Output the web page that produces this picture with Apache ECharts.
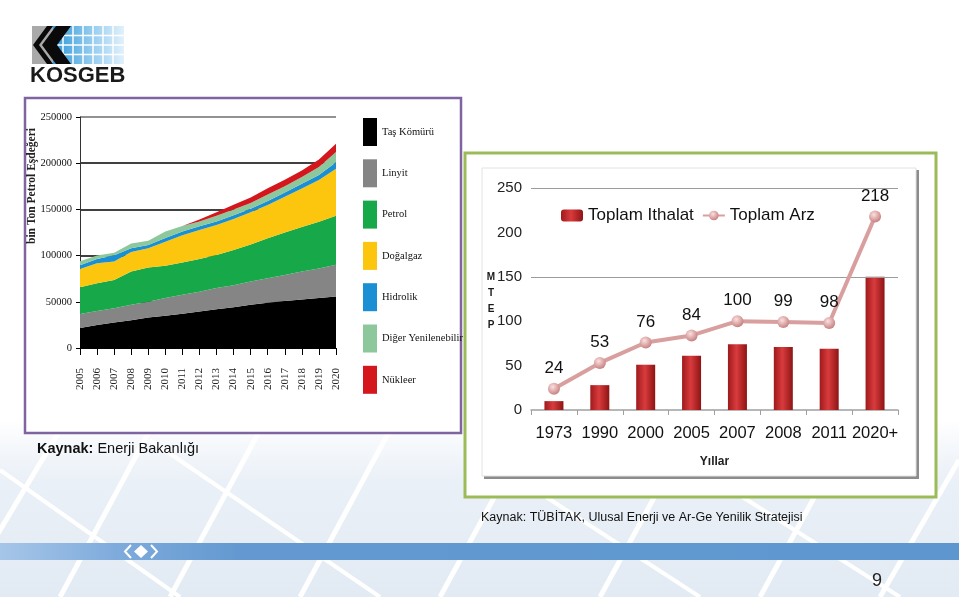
<!DOCTYPE html>
<html><head><meta charset="utf-8">
<script src="https://cdn.jsdelivr.net/npm/echarts@6/dist/echarts.min.js"></script>
<style>html,body{margin:0;padding:0;background:#fff;}#c{width:959px;height:597px;}</style>
</head><body><div id="c"></div>
<script>
// ---- Left chart data (bin Ton Petrol Eşdeğeri) ----
const years = ['2005','2006','2007','2008','2009','2010','2011','2012','2013','2014','2015','2016','2017','2018','2019','2020'];
const tasKomuru = [21600,25000,27700,30000,33000,35000,37000,39500,42000,44000,46800,49000,51000,52500,54000,55800];
const linyit = [15100,15000,15300,16800,17000,19000,20500,21500,23000,24000,25200,26500,28000,30200,32000,34200];
const petrol = [29100,30000,30700,35900,37000,35000,34900,35400,35700,38000,40000,43200,46000,48300,50700,53000];
const dogalgaz = [19800,21700,19800,21300,21000,26000,29600,31300,32300,33600,34800,36000,38700,41700,45000,51000];
const hidrolik = [4000,4500,7000,4000,3500,4000,4000,4000,4000,4000,4000,4500,4500,5000,5500,7000];
const digerYenilenebilir = [4400,3800,2500,5000,4500,7000,6000,5300,6000,6400,6200,6800,6800,7300,8800,11000];
const nukleer = [0,0,0,0,0,0,0,2000,4000,5000,6000,7000,7000,7000,8000,9000];

// ---- Right chart data (MTEP) ----
const yillar = ['1973','1990','2000','2005','2007','2008','2011','2020+'];
const toplamIthalat = [10,28,51,61,74,71,69,150];
const toplamArz = [24,53,76,84,100,99,98,218];
const rightGridValues = [150,250];

const SERIF = "'Liberation Serif','DejaVu Serif',serif";
const NARROW = "'Liberation Sans Narrow','Arial Narrow','Liberation Sans',Arial,sans-serif";
const SANS = "'Liberation Sans',Arial,sans-serif";

const chart = echarts.init(document.getElementById('c'), null, {renderer:'canvas'});

const layers = [
  {name:'Taş Kömürü', data:tasKomuru, color:'#000000'},
  {name:'Linyit', data:linyit, color:'#858585'},
  {name:'Petrol', data:petrol, color:'#17a84a'},
  {name:'Doğalgaz', data:dogalgaz, color:'#fcc60f'},
  {name:'Hidrolik', data:hidrolik, color:'#1b8fd4'},
  {name:'Diğer Yenilenebilir', data:digerYenilenebilir, color:'#8dc79c'},
  {name:'Nükleer', data:nukleer, color:'#d4161d'}
];

const leftSeries = layers.map(l => ({
  type:'line', name:l.name, data:l.data, stack:'enerji',
  xAxisIndex:0, yAxisIndex:0, symbol:'none', smooth:false,
  lineStyle:{width:0}, itemStyle:{color:l.color},
  areaStyle:{color:l.color, opacity:1}, z:2
}));

// background diagonal lines
const bgLines = [];
[[-40,597,60,430],[60,597,150,430],[170,597,260,430],[300,597,390,430],[440,597,520,450],
 [600,597,680,450],[760,597,840,450],[880,597,959,460]].forEach(p=>{
  bgLines.push({type:'line', z:-30, shape:{x1:p[0],y1:p[1],x2:p[2],y2:p[3]}, style:{stroke:'#ffffff', lineWidth:5}});
});
[[0,470,180,597],[150,440,380,597],[520,480,700,597],[700,470,900,597]].forEach(p=>{
  bgLines.push({type:'line', z:-30, shape:{x1:p[0],y1:p[1],x2:p[2],y2:p[3]}, style:{stroke:'#ffffff', lineWidth:4}});
});

// logo grid lines
const logoGrid = [];
for (let i=1;i<7;i++) logoGrid.push({type:'line', z:5, shape:{x1:53+i*10,y1:26,x2:53+i*10,y2:64}, style:{stroke:'#fff', lineWidth:1.5}});
for (let j=1;j<4;j++) logoGrid.push({type:'line', z:5, shape:{x1:53,y1:26+j*9.5,x2:124,y2:26+j*9.5}, style:{stroke:'#fff', lineWidth:1.5}});

const graphics = [
  // bottom background
  {type:'rect', z:-40, shape:{x:0,y:420,width:959,height:177},
   style:{fill:new echarts.graphic.LinearGradient(0,0,0,1,[{offset:0,color:'rgba(230,237,246,0)'},{offset:0.35,color:'#eaf0f7'},{offset:1,color:'#e2eaf3'}])}},
  ...bgLines,
  // blue band
  {type:'rect', z:-25, shape:{x:0,y:543,width:959,height:17},
   style:{fill:new echarts.graphic.LinearGradient(0,0,1,0,[{offset:0,color:'#a6c6e8'},{offset:0.12,color:'#7fabdc'},{offset:0.25,color:'#6399d0'},{offset:1,color:'#5e97d0'}])}},
  {type:'polygon', z:-24, shape:{points:[[141,545],[148,551.5],[141,558],[134,551.5]]}, style:{fill:'#ffffff'}},
  {type:'polyline', z:-24, shape:{points:[[131,545],[125,551.5],[131,558]]}, style:{stroke:'#ffffff', lineWidth:2, fill:null}},
  {type:'polyline', z:-24, shape:{points:[[151,545],[157,551.5],[151,558]]}, style:{stroke:'#ffffff', lineWidth:2, fill:null}},
  // logo
  {type:'rect', z:4, shape:{x:32,y:26,width:21,height:38}, style:{fill:'#a9a9a9'}},
  {type:'rect', z:4, shape:{x:53,y:26,width:71,height:38},
   style:{fill:new echarts.graphic.LinearGradient(0,0,1,0,[{offset:0,color:'#2f98d8'},{offset:0.5,color:'#8cc8ee'},{offset:1,color:'#e2f1fb'}])}},
  ...logoGrid,
  {type:'polygon', z:6, shape:{points:[[33,45],[47,26],[53,26],[39,45],[53,64],[47,64]]}, style:{fill:'#0a0a0a'}},
  {type:'polygon', z:6, shape:{points:[[42,45],[56,26],[71,26],[57,45],[71,64],[56,64]]}, style:{fill:'#0a0a0a'}},
  {type:'text', z:6, x:30, y:76, style:{text:'KOSGEB', font:'bold 22px '+SANS, fill:'#1a1a1a', align:'left', verticalAlign:'middle'}},
  // left box
  {type:'rect', z:-20, shape:{x:25,y:98,width:436,height:335}, style:{fill:'#ffffff', stroke:'#8064a2', lineWidth:2.5}},
  {type:'text', z:3, x:32, y:186, rotation:Math.PI/2, style:{text:'bin Ton Petrol Eşdeğeri', font:'bold 11.5px '+SERIF, fill:'#222', align:'center', verticalAlign:'middle'}},
  {type:'text', z:3, x:37, y:449, style:{text:'{b|Kaynak:} Enerji Bakanlığı', font:'14.5px '+SANS, fill:'#111', verticalAlign:'middle',
    rich:{b:{font:'bold 14.5px '+SANS, fill:'#111'}}}},
  // right box
  {type:'rect', z:-20, shape:{x:465,y:153,width:471,height:344}, style:{fill:'#ffffff', stroke:'#9bbb59', lineWidth:3}},
  {type:'rect', z:-19, shape:{x:484,y:170,width:435,height:309}, style:{fill:'#8c8c8c'}},
  {type:'rect', z:-18, shape:{x:482,y:168,width:434,height:308}, style:{fill:'#ffffff', stroke:'#e2e2e2', lineWidth:1}},
  {type:'text', z:3, x:491, y:301, style:{text:'M\nT\nE\nP', font:'bold 10px '+SANS, fill:'#1a1a1a', align:'center', verticalAlign:'middle', lineHeight:16}},
  {type:'text', z:3, x:481, y:518, style:{text:'Kaynak: TÜBİTAK, Ulusal Enerji ve Ar-Ge Yenilik Stratejisi', font:'12.5px '+SANS, fill:'#111', verticalAlign:'middle'}},
  // page number
  {type:'text', z:3, x:877, y:581, style:{text:'9', font:'18px '+SANS, fill:'#222', align:'center', verticalAlign:'middle'}}
];

const option = {
  animation:false,
  backgroundColor:'#ffffff',
  graphic:{elements:graphics},
  legend:[
    {orient:'vertical', left:358, top:113, itemWidth:14, itemHeight:28, itemGap:13.3, icon:'rect',
     data:layers.map(l=>l.name), textStyle:{fontFamily:SERIF, fontSize:10.5, color:'#111'}, selectedMode:false},
    {orient:'horizontal', left:556, top:202, itemWidth:22, itemHeight:12, itemGap:8,
     data:['Toplam Ithalat','Toplam Arz'], textStyle:{fontFamily:NARROW, fontSize:17, color:'#111'}, selectedMode:false}
  ],
  grid:[
    {left:80, top:117, width:256, height:231, containLabel:false},
    {left:531, top:188, width:367, height:222, containLabel:false}
  ],
  xAxis:[
    {gridIndex:0, type:'category', data:years, boundaryGap:false,
     axisLine:{lineStyle:{color:'#000', width:1}},
     axisTick:{show:true, length:7, lineStyle:{color:'#000'}},
     axisLabel:{rotate:90, margin:20, fontFamily:SERIF, fontSize:11, color:'#222', interval:0}},
    {gridIndex:1, type:'category', data:yillar,
     axisLine:{lineStyle:{color:'#a0a0a0', width:1.5}},
     axisTick:{show:true, length:5, alignWithLabel:false, interval:0, lineStyle:{color:'#a0a0a0'}},
     axisLabel:{margin:15, fontFamily:NARROW, fontSize:16.5, color:'#111', interval:0},
     name:'Yıllar', nameLocation:'middle', nameGap:46,
     nameTextStyle:{fontFamily:SANS, fontWeight:'bold', fontSize:12, color:'#222'}}
  ],
  yAxis:[
    {gridIndex:0, type:'value', min:0, max:250000, interval:50000,
     axisLine:{show:true, lineStyle:{color:'#333', width:1}},
     axisTick:{show:true, length:4, lineStyle:{color:'#000'}},
     axisLabel:{margin:8, fontFamily:SERIF, fontSize:10.5, color:'#111', formatter:v=>String(v)},
     splitLine:{show:true, lineStyle:{color:['#000','#000','#000','#000','#000','#6e6e6e'], width:1.5}}},
    {gridIndex:1, type:'value', min:0, max:250, interval:50,
     axisLine:{show:false}, axisTick:{show:false}, splitLine:{show:false},
     axisLabel:{margin:9, fontFamily:NARROW, fontSize:15, color:'#222'}}
  ],
  series:[
    ...leftSeries,
    {type:'bar', name:'Toplam Ithalat', data:toplamIthalat, xAxisIndex:1, yAxisIndex:1, barWidth:19, z:3,
     itemStyle:{color:new echarts.graphic.LinearGradient(0,0,1,0,[{offset:0,color:'#9e1a1c'},{offset:0.45,color:'#d93b3d'},{offset:1,color:'#8e1414'}])},
     markLine:{silent:true, symbol:'none', label:{show:false}, lineStyle:{color:'#9c9c9c', width:1, type:'solid'},
       data:rightGridValues.map(v=>({yAxis:v}))}},
    {type:'line', name:'Toplam Arz', data:toplamArz, xAxisIndex:1, yAxisIndex:1, z:5,
     symbol:'circle', symbolSize:12,
     lineStyle:{color:'#d99e9e', width:4},
     itemStyle:{color:new echarts.graphic.RadialGradient(0.4,0.35,0.7,[{offset:0,color:'#fbe0e0'},{offset:1,color:'#c47a7a'}])},
     label:{show:true, position:'top', distance:6, fontFamily:NARROW, fontSize:17, color:'#111'}}
  ]
};
chart.setOption(option);
</script>
</body></html>
